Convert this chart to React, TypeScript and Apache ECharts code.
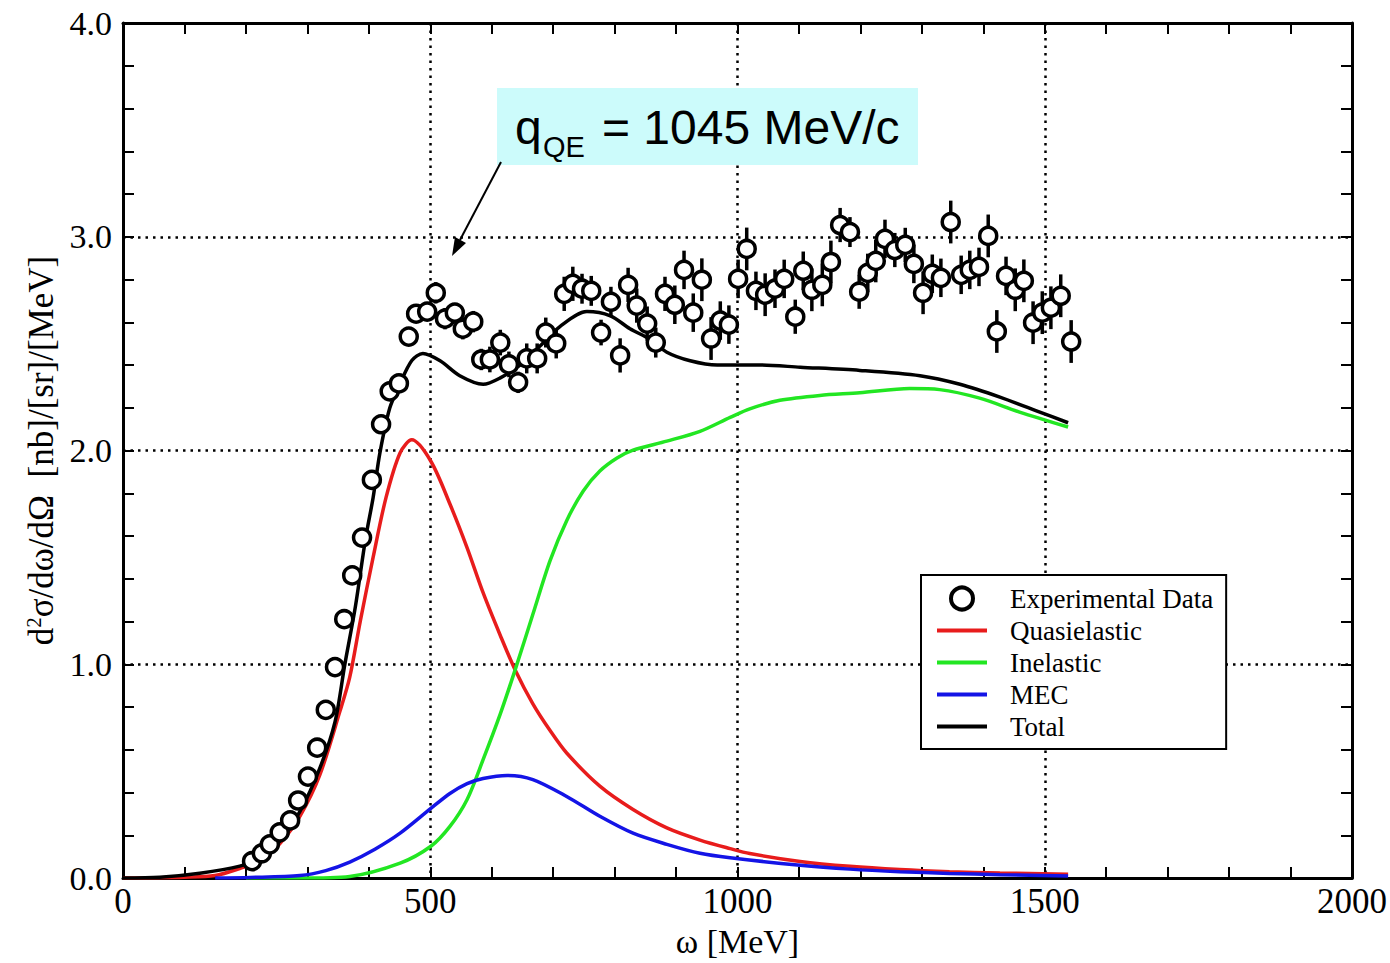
import { useEffect, useRef } from 'react';
import * as echarts from 'echarts';

// Experimental data: omega [MeV], cross section, error
const expOmega = [210, 226, 239, 255, 272, 285, 301, 316, 330, 345, 360, 373, 389, 405, 420, 434, 449, 465, 477, 495,
  509, 524, 540, 553, 570, 583, 597, 614, 628, 643, 657, 674, 688, 705, 718, 732, 747, 762, 778, 794,
  809, 822, 836, 853, 867, 882, 898, 913, 928, 942, 957, 972, 986, 1001, 1015, 1030, 1045, 1061, 1076, 1094,
  1107, 1121, 1138, 1152, 1167, 1183, 1198, 1212, 1225, 1240, 1256, 1273, 1287, 1302, 1317, 1331, 1347, 1364, 1378, 1393,
  1408, 1422, 1437, 1452, 1466, 1481, 1496, 1510, 1526, 1543];
const expSigma = [0.079, 0.116, 0.158, 0.214, 0.270, 0.363, 0.475, 0.610, 0.787, 0.987, 1.211, 1.416, 1.593, 1.863, 2.123, 2.277, 2.314, 2.533, 2.640, 2.650,
  2.738, 2.617, 2.645, 2.570, 2.603, 2.426, 2.426, 2.505, 2.403, 2.319, 2.431, 2.431, 2.552, 2.501, 2.733, 2.780, 2.757, 2.747, 2.552, 2.696,
  2.445, 2.775, 2.678, 2.594, 2.505, 2.733, 2.682, 2.845, 2.645, 2.799, 2.524, 2.608, 2.589, 2.803, 2.943, 2.747, 2.729, 2.757, 2.803, 2.626,
  2.841, 2.752, 2.775, 2.882, 3.055, 3.022, 2.743, 2.831, 2.887, 2.990, 2.938, 2.962, 2.873, 2.738, 2.827, 2.808, 3.069, 2.822, 2.845, 2.859,
  3.004, 2.557, 2.817, 2.752, 2.794, 2.598, 2.645, 2.668, 2.724, 2.510];
const expError = [0.02, 0.02, 0.02, 0.02, 0.02, 0.02, 0.02, 0.02, 0.02, 0.02, 0.02, 0.02, 0.02, 0.02, 0.03, 0.03, 0.04, 0.04, 0.04, 0.04,
  0.05, 0.05, 0.04, 0.05, 0.05, 0.05, 0.06, 0.06, 0.06, 0.05, 0.07, 0.07, 0.07, 0.07, 0.08, 0.08, 0.07, 0.07, 0.06, 0.07,
  0.08, 0.08, 0.08, 0.08, 0.07, 0.08, 0.09, 0.09, 0.09, 0.10, 0.10, 0.09, 0.09, 0.09, 0.10, 0.09, 0.10, 0.09, 0.09, 0.08,
  0.09, 0.10, 0.10, 0.10, 0.08, 0.07, 0.08, 0.09, 0.10, 0.09, 0.08, 0.08, 0.09, 0.10, 0.09, 0.09, 0.10, 0.09, 0.09, 0.09,
  0.10, 0.10, 0.09, 0.10, 0.10, 0.10, 0.10, 0.10, 0.10, 0.10];

// Quasielastic (red)
const qeOmega = [0, 100, 150, 190, 223, 255, 288, 320, 353, 369, 386, 407, 428, 451, 470, 501, 532, 560, 586, 614, 638, 667, 695, 722, 776, 830, 885, 939, 988, 1020, 1102, 1183, 1264, 1345, 1427, 1538];
const qeSigma = [0, 0.004, 0.012, 0.045, 0.08, 0.16, 0.29, 0.48, 0.78, 0.94, 1.20, 1.50, 1.78, 1.99, 2.05, 1.95, 1.75, 1.545, 1.335, 1.135, 0.975, 0.815, 0.69, 0.585, 0.43, 0.321, 0.235, 0.178, 0.138, 0.115, 0.078, 0.055, 0.04, 0.03, 0.024, 0.018];

// Inelastic (green)
const inOmega = [200, 288, 369, 451, 501, 532, 560, 586, 614, 638, 667, 695, 722, 749, 776, 804, 830, 885, 939, 988, 1020, 1069, 1134, 1199, 1280, 1329, 1394, 1459, 1538];
const inSigma = [0, 0.0, 0.008, 0.07, 0.149, 0.242, 0.368, 0.554, 0.768, 0.973, 1.234, 1.485, 1.672, 1.811, 1.904, 1.965, 2.002, 2.044, 2.09, 2.155, 2.195, 2.235, 2.258, 2.27, 2.29, 2.285, 2.245, 2.18, 2.11];

// MEC (blue)
const mecOmega = [150, 207, 288, 330, 369, 410, 451, 501, 532, 560, 586, 625, 667, 722, 776, 830, 885, 939, 988, 1102, 1183, 1264, 1345, 1427, 1538];
const mecSigma = [0, 0.003, 0.012, 0.035, 0.075, 0.135, 0.21, 0.326, 0.396, 0.442, 0.466, 0.48, 0.461, 0.382, 0.289, 0.21, 0.158, 0.116, 0.095, 0.06, 0.042, 0.03, 0.022, 0.016, 0.01];

// Total (black)
const totOmega = [0, 60, 125, 190, 223, 255, 288, 320, 345, 361, 378, 395, 407, 418, 434, 451, 470, 488, 516, 548, 586, 614, 646, 679, 711, 755, 793, 825, 858, 885, 923, 967, 1037, 1102, 1199, 1297, 1362, 1427, 1492, 1538];
const totSigma = [0, 0.004, 0.023, 0.056, 0.093, 0.172, 0.312, 0.512, 0.731, 1.0, 1.267, 1.593, 1.779, 1.988, 2.198, 2.314, 2.421, 2.454, 2.42, 2.35, 2.31, 2.34, 2.40, 2.49, 2.58, 2.65, 2.63, 2.57, 2.52, 2.46, 2.42, 2.40, 2.40, 2.39, 2.375, 2.35, 2.31, 2.25, 2.18, 2.13];

const xTickLabels = ['0', '500', '1000', '1500', '2000'];
const yTickLabels = ['0.0', '1.0', '2.0', '3.0', '4.0'];

const SERIF = '"Liberation Serif", "Times New Roman", serif';
const SANS = '"Liberation Sans", Arial, sans-serif';

const pairs = (xs: number[], ys: number[]) => xs.map((x, i) => [x, ys[i]]);

export default function App() {
  const ref = useRef<HTMLDivElement>(null);
  useEffect(() => {
    const chart = echarts.init(ref.current!, null, { renderer: 'svg' });
    const tickCommon = {
      axisLine: { show: true, onZero: false, lineStyle: { color: '#000', width: 3 } },
      axisTick: { show: true, inside: true, length: 11, lineStyle: { color: '#000', width: 2 } },
      minorTick: { show: true, splitNumber: 5, length: 11, lineStyle: { color: '#000', width: 2 } },
    };
    const gridLine = { show: true, lineStyle: { type: [2.5, 5], color: '#000', width: 2.5 } };
    const lineSeries = (name: string, xs: number[], ys: number[], color: string, z: number) => ({
      name,
      type: 'line',
      data: pairs(xs, ys),
      symbol: 'none',
      smooth: 0.3,
      lineStyle: { color, width: 3.5 },
      itemStyle: { color },
      z,
    });
    chart.setOption({
      animation: false,
      backgroundColor: '#fff',
      grid: { left: 123, right: 38, top: 23, bottom: 81, containLabel: false },
      xAxis: [
        {
          type: 'value', min: 0, max: 2000, interval: 500, position: 'bottom',
          ...tickCommon,
          axisLabel: {
            show: true, margin: 6, color: '#000', fontFamily: SERIF, fontSize: 35,
            formatter: (_v: number, i: number) => xTickLabels[i],
          },
          splitLine: gridLine,
          name: 'ω [MeV]', nameLocation: 'middle', nameGap: 44,
          nameTextStyle: { color: '#000', fontFamily: SERIF, fontSize: 34 },
        },
        {
          type: 'value', min: 0, max: 2000, interval: 500, position: 'top',
          ...tickCommon,
          axisLabel: { show: false },
          splitLine: { show: false },
        },
      ],
      yAxis: [
        {
          type: 'value', min: 0, max: 4, interval: 1, position: 'left',
          ...tickCommon,
          axisLabel: {
            show: true, margin: 11, color: '#000', fontFamily: SERIF, fontSize: 34,
            formatter: (_v: number, i: number) => yTickLabels[i],
          },
          splitLine: gridLine,
          name: 'd{sup|2}σ/dω/dΩ  [nb]/[sr]/[MeV]', nameLocation: 'middle', nameGap: 62,
          nameTextStyle: {
            color: '#000', fontFamily: SERIF, fontSize: 35,
            rich: { sup: { fontFamily: SERIF, fontSize: 21, color: '#000', verticalAlign: 'top' } },
          },
        },
        {
          type: 'value', min: 0, max: 4, interval: 1, position: 'right',
          ...tickCommon,
          axisLabel: { show: false },
          splitLine: { show: false },
        },
      ],
      legend: {
        orient: 'vertical', left: 921, top: 575,
        padding: [10, 13, 9, 14],
        backgroundColor: '#fff', borderColor: '#000', borderWidth: 2,
        itemWidth: 50, itemHeight: 22, itemGap: 5,
        selectedMode: false,
        itemStyle: { opacity: 0 },
        lineStyle: { width: 4 },
        textStyle: { color: '#000', fontFamily: SERIF, fontSize: 27, padding: [0, 0, 0, 18] },
        data: [
          { name: 'Experimental Data', icon: 'circle', itemStyle: { color: '#fff', borderColor: '#000', borderWidth: 4, opacity: 1 } },
          'Quasielastic', 'Inelastic', 'MEC', 'Total',
        ],
      },
      series: [
        lineSeries('Quasielastic', qeOmega, qeSigma, '#e81c1c', 3),
        lineSeries('Inelastic', inOmega, inSigma, '#22e622', 3),
        lineSeries('MEC', mecOmega, mecSigma, '#1414e6', 3),
        lineSeries('Total', totOmega, totSigma, '#000000', 4),
        {
          name: 'errors',
          type: 'custom',
          data: expOmega.map((x, i) => [x, expSigma[i] - expError[i], expSigma[i] + expError[i]]),
          encode: { x: 0, y: [1, 2] },
          renderItem: (_p: any, api: any) => {
            const a = api.coord([api.value(0), api.value(1)]);
            const b = api.coord([api.value(0), api.value(2)]);
            return {
              type: 'line',
              shape: { x1: a[0], y1: a[1], x2: b[0], y2: b[1] },
              style: { stroke: '#000', lineWidth: 3.5 },
            };
          },
          z: 5,
        },
        {
          name: 'Experimental Data',
          type: 'scatter',
          data: pairs(expOmega, expSigma),
          symbol: 'circle',
          symbolSize: 17,
          itemStyle: { color: '#fff', borderColor: '#000', borderWidth: 3.5, opacity: 1 },
          z: 6,
        },
      ],
      graphic: [
        { type: 'rect', shape: { x: 497, y: 88, width: 421, height: 77 }, style: { fill: '#ccfbfb' }, z: 10 },
        { type: 'text', x: 515, y: 127, style: { text: 'q', fontFamily: SANS, fontSize: 48, fill: '#000', align: 'left', verticalAlign: 'middle' }, z: 11 },
        { type: 'text', x: 543, y: 147, style: { text: 'QE', fontFamily: SANS, fontSize: 29, fill: '#000', align: 'left', verticalAlign: 'middle' }, z: 11 },
        { type: 'text', x: 602, y: 127, style: { text: '= 1045 MeV/c', fontFamily: SANS, fontSize: 48, fill: '#000', align: 'left', verticalAlign: 'middle' }, z: 11 },
        { type: 'line', shape: { x1: 501, y1: 162, x2: 460, y2: 240 }, style: { stroke: '#000', lineWidth: 2 }, z: 11 },
        { type: 'polygon', shape: { points: [[452, 256], [466, 243], [455, 237]] }, style: { fill: '#000' }, z: 11 },
      ],
    });
    return () => chart.dispose();
  }, []);
  return <div ref={ref} style={{ position: 'absolute', left: 0, top: 0, width: 1390, height: 963 }} />;
}
